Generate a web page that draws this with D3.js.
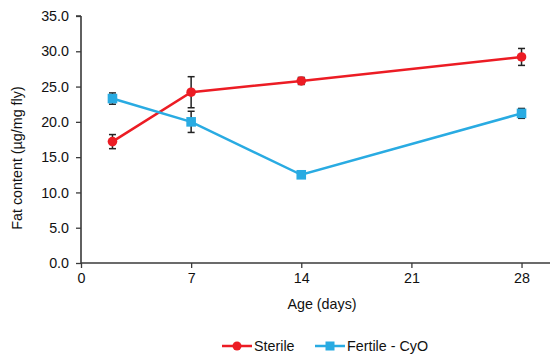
<!DOCTYPE html>
<html><head><meta charset="utf-8">
<script src="https://cdn.jsdelivr.net/npm/d3@7"></script>
<style>body{margin:0;background:#fff}svg{display:block;font-family:"Liberation Sans",Arial,sans-serif}</style>
</head><body><svg id="c" width="550" height="359"></svg>
<script>
const days = [2, 7, 14, 28];
const sterile = [17.2, 24.2, 25.8, 29.2];
const sterileErr = [1.0, 2.2, 0.5, 1.2];
const fertile = [23.3, 20.0, 12.5, 21.2];
const fertileErr = [0.8, 1.5, 0.3, 0.7];
const xTicks = [0, 7, 14, 21, 28];
const yTicks = [0, 5, 10, 15, 20, 25, 30, 35];
const seriesNames = ["Sterile", "Fertile - CyO"];
const colors = ["#ec1c24", "#29abe2"];
const fs = 14.3;

const svg = d3.select("#c");
const x = d3.scaleLinear().domain([0, 30]).range([81, 553]);
const y = d3.scaleLinear().domain([0, 35]).range([263, 16]);
const axisColor = "#3a3a3a";

const xa = svg.append("g").attr("transform", "translate(0,263)")
  .call(d3.axisBottom(x).tickValues(xTicks).tickSize(5).tickPadding(5));
const ya = svg.append("g").attr("transform", "translate(81,0)")
  .call(d3.axisLeft(y).tickValues(yTicks).tickFormat(d3.format(".1f")).tickSize(5).tickPadding(7));
[xa, ya].forEach(a => {
  a.select(".domain").attr("stroke", axisColor).attr("stroke-width", 1.6);
  a.selectAll(".tick line").attr("stroke", axisColor).attr("stroke-width", 1.3);
  a.selectAll(".tick text").attr("fill", "#111").attr("font-size", fs).attr("font-family", "Liberation Sans, Arial, sans-serif");
});
xa.select(".domain").attr("d", "M81,0H553");
ya.select(".domain").attr("d", "M0,16H-5M0,16V263");

svg.append("text").attr("x", 322).attr("y", 309).attr("text-anchor", "middle")
  .attr("font-size", fs).attr("fill", "#111").text("Age (days)");
svg.append("text").attr("transform", "translate(22,158) rotate(-90)").attr("text-anchor", "middle")
  .attr("font-size", fs).attr("fill", "#111").text("Fat content (µg/mg fly)");

const series = [
  {vals: sterile, err: sterileErr, shape: "circle"},
  {vals: fertile, err: fertileErr, shape: "square"}
];
const line = d3.line().x(d => x(d.day)).y(d => y(d.v));

series.forEach((s, i) => {
  const pts = days.map((d, j) => ({day: d, v: s.vals[j], e: s.err[j]}));
  svg.append("path").datum(pts).attr("d", line).attr("fill", "none")
    .attr("stroke", colors[i]).attr("stroke-width", 2.5);
  const eb = svg.append("g").attr("stroke", "#222").attr("stroke-width", 1.5);
  pts.forEach(p => {
    eb.append("line").attr("x1", x(p.day)).attr("x2", x(p.day)).attr("y1", y(p.v + p.e)).attr("y2", y(p.v - p.e));
    [p.v + p.e, p.v - p.e].forEach(v => eb.append("line")
      .attr("x1", x(p.day) - 3.5).attr("x2", x(p.day) + 3.5).attr("y1", y(v)).attr("y2", y(v)));
  });
  pts.forEach(p => {
    if (s.shape === "circle") svg.append("circle").attr("cx", x(p.day)).attr("cy", y(p.v)).attr("r", 4.8).attr("fill", colors[i]);
    else svg.append("rect").attr("x", x(p.day) - 4.8).attr("y", y(p.v) - 4.8).attr("width", 9.6).attr("height", 9.6).attr("fill", colors[i]);
  });
});

const legX = [222, 315];
seriesNames.forEach((n, i) => {
  const g = svg.append("g").attr("transform", `translate(${legX[i]},346)`);
  g.append("line").attr("x1", 0).attr("x2", 30).attr("y1", 0).attr("y2", 0).attr("stroke", colors[i]).attr("stroke-width", 2.5);
  if (i === 0) g.append("circle").attr("cx", 15).attr("cy", 0).attr("r", 4.5).attr("fill", colors[i]);
  else g.append("rect").attr("x", 10.5).attr("y", -4.5).attr("width", 9).attr("height", 9).attr("fill", colors[i]);
  g.append("text").attr("x", 32).attr("y", 5).attr("font-size", fs).attr("fill", "#111").text(n);
});
</script></body></html>
